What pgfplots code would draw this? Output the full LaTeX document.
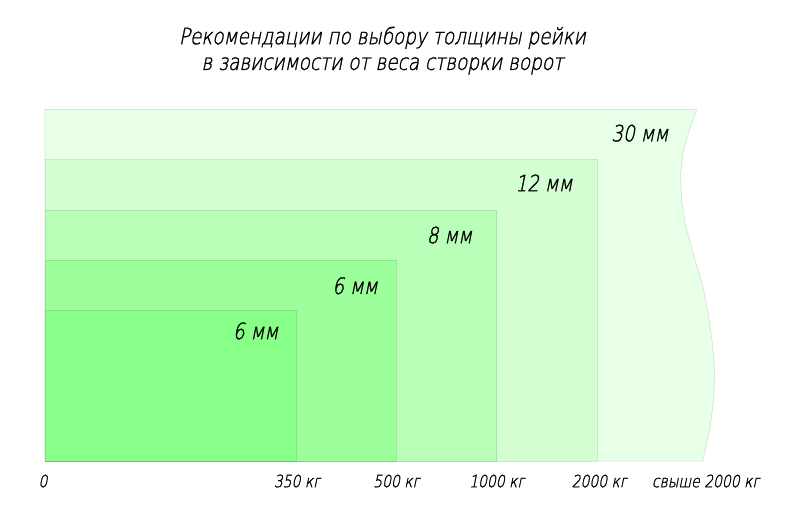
\documentclass[border=0pt]{standalone}
\usepackage{pgfplots}
\pgfplotsset{compat=1.18}
\usepackage{fontspec}
\setmainfont{DejaVu Sans ExtraLight}[
  FakeStretch=0.82,
  ItalicFont={DejaVu Sans ExtraLight},
  ItalicFeatures={FakeSlant=0.2, FakeStretch=0.82, FakeBold=1.2}]
\definecolor{c1}{HTML}{88FF88}
\definecolor{c2}{HTML}{9DFF9B}
\definecolor{c3}{HTML}{B9FFB8}
\definecolor{c4}{HTML}{D4FFD3}
\definecolor{c5}{HTML}{E8FFE8}
\begin{document}
\begin{tikzpicture}
\begin{axis}[
  scale only axis, width=800bp, height=515bp,
  xmin=-0.448, xmax=7.52, ymin=-1.076, ymax=9.183,
  axis line style={draw=none}, ticks=none,
  clip=false,
  every node/.style={font=\itshape, text=black}
]
\pgfplotsset{rect/.style={draw=black, draw opacity=0.1, line width=0.8bp}}
% 30 mm (wavy right edge)
\addplot[fill=c5, rect] coordinates {
  (0,0) (6.55,0) (6.62,0.6) (6.66,1.2) (6.67,1.75) (6.65,2.3) (6.61,2.9)
  (6.55,3.5) (6.46,4.1) (6.38,4.7) (6.34,5.2) (6.33,5.7) (6.36,6.2) (6.42,6.6) (6.49,7)
  (0,7) (0,0)};
% 12 mm
\addplot[fill=c4, rect] coordinates {(0,0) (5.5,0) (5.5,6) (0,6) (0,0)};
% 8 mm
\addplot[fill=c3, rect] coordinates {(0,0) (4.5,0) (4.5,5) (0,5) (0,0)};
% 6 mm
\addplot[fill=c2, rect] coordinates {(0,0) (3.5,0) (3.5,4) (0,4) (0,0)};
% 6 mm
\addplot[fill=c1, rect] coordinates {(0,0) (2.5,0) (2.5,3) (0,3) (0,0)};

\def\big{\fontsize{22.5bp}{27bp}\selectfont\itshape}
\def\sm{\fontsize{17bp}{20bp}\selectfont\itshape}
\node[anchor=east,font=\big] at (axis cs:6.245,6.53) {30 мм};
\node[anchor=east,font=\big] at (axis cs:5.29,5.54) {12 мм};
\node[anchor=east,font=\big] at (axis cs:4.29,4.50) {8 мм};
\node[anchor=east,font=\big] at (axis cs:3.35,3.49) {6 мм};
\node[anchor=east,font=\big] at (axis cs:2.36,2.59) {6 мм};

\node[font=\sm] at (axis cs:-0.02,-0.40) {0};
\node[font=\sm] at (axis cs:2.51,-0.40) {350 кг};
\node[font=\sm] at (axis cs:3.50,-0.40) {500 кг};
\node[font=\sm] at (axis cs:4.50,-0.40) {1000 кг};
\node[font=\sm] at (axis cs:5.52,-0.40) {2000 кг};
\node[font=\sm] at (axis cs:6.58,-0.40) {свыше 2000 кг};

\node[font=\big] at (axis cs:3.36,8.43) {Рекомендации по выбору толщины рейки};
\node[font=\big] at (axis cs:3.36,7.87) {в зависимости от веса створки ворот};
\end{axis}
\end{tikzpicture}
\end{document}
